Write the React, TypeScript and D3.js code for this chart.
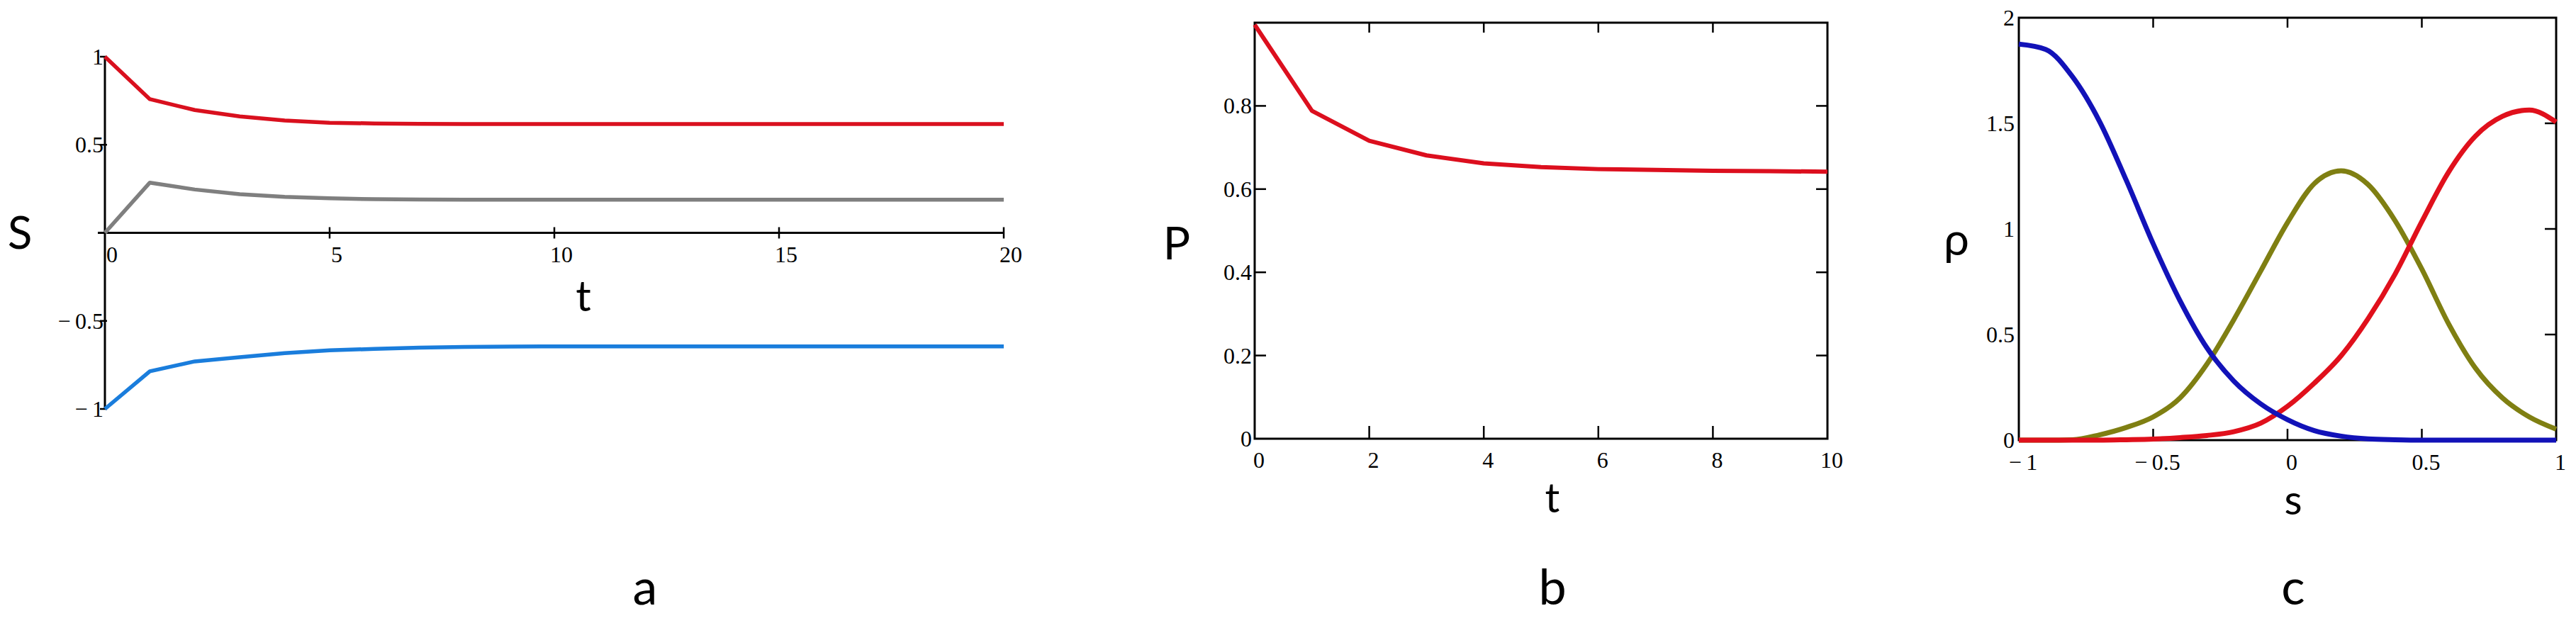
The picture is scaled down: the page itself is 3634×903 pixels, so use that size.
import React, { useEffect, useRef } from 'react';
import * as d3 from 'd3';

// panel a: S(t), three components
const tA = [0, 1, 2, 3, 4, 5, 6, 7, 8, 9, 10, 11, 12, 13, 14, 15, 16, 17, 18, 19, 20];
const sRed = [1, 0.759, 0.697, 0.661, 0.638, 0.625, 0.621, 0.619, 0.618, 0.618, 0.618, 0.618, 0.618, 0.618, 0.618, 0.618, 0.618, 0.618, 0.618, 0.618, 0.618];
const sGray = [0, 0.285, 0.246, 0.219, 0.204, 0.196, 0.191, 0.189, 0.188, 0.188, 0.188, 0.188, 0.188, 0.188, 0.188, 0.188, 0.188, 0.188, 0.188, 0.188, 0.188];
const sBlue = [-1, -0.786, -0.73, -0.706, -0.683, -0.667, -0.659, -0.652, -0.648, -0.646, -0.645, -0.645, -0.645, -0.645, -0.645, -0.645, -0.645, -0.645, -0.645, -0.645, -0.645];
const aXTicks = [0, 5, 10, 15, 20];
const aYTicks = [1, 0.5, -0.5, -1];

// panel b: P(t)
const tB = [0, 1, 2, 3, 4, 5, 6, 7, 8, 9, 10];
const pVals = [0.995, 0.788, 0.716, 0.681, 0.662, 0.653, 0.648, 0.646, 0.644, 0.643, 0.642];
const bXTicks = [0, 2, 4, 6, 8, 10];
const bYTicks = [0, 0.2, 0.4, 0.6, 0.8];

// panel c: rho(s)
const sC = [-1, -0.9, -0.8, -0.7, -0.6, -0.5, -0.4, -0.3, -0.2, -0.1, 0, 0.1, 0.2, 0.3, 0.4, 0.5, 0.6, 0.7, 0.8, 0.9, 1];
const rhoBlue = [1.875, 1.85, 1.72, 1.51, 1.23, 0.93, 0.66, 0.437, 0.28, 0.172, 0.097, 0.045, 0.019, 0.006, 0.002, 0, 0, 0, 0, 0, 0];
const rhoOlive = [0, 0, 0.002, 0.025, 0.06, 0.11, 0.2, 0.36, 0.57, 0.8, 1.03, 1.215, 1.275, 1.21, 1.04, 0.81, 0.55, 0.34, 0.2, 0.11, 0.052];
const rhoRed = [0, 0, 0, 0, 0.002, 0.005, 0.012, 0.022, 0.04, 0.08, 0.16, 0.27, 0.4, 0.575, 0.785, 1.035, 1.27, 1.44, 1.533, 1.563, 1.506];
const cXTicks = [-1, -0.5, 0, 0.5, 1];
const cYTicks = [0, 0.5, 1, 1.5, 2];

const W = 3634;
const H = 903;
const tickFont = "'Liberation Serif', 'Times New Roman', serif";
const labelFont = "Lato, 'Open Sans', sans-serif";

const fmt = (v: number) => (v < 0 ? '\u2212\u2009' + String(-v) : String(v));

export default function App() {
  const svgRef = useRef<SVGSVGElement>(null);

  useEffect(() => {
    document.body.style.margin = '0';
    const svg = d3.select(svgRef.current);
    svg.selectAll('*').remove();
    svg.append('rect').attr('width', W).attr('height', H).attr('fill', 'white');

    const label = (x: number, y: number, s: string, size: number, anchor = 'middle', font = labelFont) =>
      svg.append('text')
        .attr('x', x).attr('y', y)
        .attr('text-anchor', anchor)
        .attr('dominant-baseline', 'central')
        .attr('font-family', font)
        .attr('font-size', size)
        .attr('fill', 'black')
        .text(s);

    // ---------- panel a ----------
    const xA = d3.scaleLinear().domain([0, 20]).range([148, 1416]);
    const yA = d3.scaleLinear().domain([-1, 1]).range([577, 80]);
    const lineA = d3.line<number>().x((_, i) => xA(tA[i]));

    svg.append('line').attr('x1', xA(0) - 10).attr('x2', xA(20)).attr('y1', yA(0)).attr('y2', yA(0))
      .attr('stroke', 'black').attr('stroke-width', 3);
    svg.append('line').attr('x1', xA(0)).attr('x2', xA(0)).attr('y1', yA(1)).attr('y2', yA(-1))
      .attr('stroke', 'black').attr('stroke-width', 3);
    aXTicks.slice(1).forEach(t => {
      svg.append('line').attr('x1', xA(t)).attr('x2', xA(t)).attr('y1', yA(0) - 8).attr('y2', yA(0) + 8)
        .attr('stroke', 'black').attr('stroke-width', 2.5);
    });
    aYTicks.forEach(v => {
      svg.append('line').attr('x1', xA(0) - 7).attr('x2', xA(0) + 3).attr('y1', yA(v)).attr('y2', yA(v))
        .attr('stroke', 'black').attr('stroke-width', 2.5);
    });
    aXTicks.forEach(t => label(xA(t) + 10, yA(0) + 30, String(t), 32, 'middle', tickFont));
    aYTicks.forEach(v => label(xA(0) - 2, yA(v), fmt(v), 32, 'end', tickFont));

    const seriesA: [number[], string][] = [[sRed, '#d9101e'], [sGray, '#7f7f7f'], [sBlue, '#1a7ddc']];
    seriesA.forEach(([vals, col]) => {
      svg.append('path')
        .attr('d', lineA.y(d => yA(d))(vals))
        .attr('fill', 'none').attr('stroke', col).attr('stroke-width', 5.5)
        .attr('stroke-linejoin', 'round');
    });
    label(28, 326, 'S', 64);
    label(823, 416, 't', 60);
    label(910, 826, 'a', 70);

    // ---------- panel b ----------
    const xB = d3.scaleLinear().domain([0, 10]).range([1770, 2578]);
    const yB = d3.scaleLinear().domain([0, 1]).range([619, 32]);
    svg.append('rect').attr('x', xB(0)).attr('y', yB(1)).attr('width', xB(10) - xB(0)).attr('height', yB(0) - yB(1))
      .attr('fill', 'none').attr('stroke', 'black').attr('stroke-width', 3);
    bXTicks.slice(1, -1).forEach(t => {
      svg.append('line').attr('x1', xB(t)).attr('x2', xB(t)).attr('y1', yB(0)).attr('y2', yB(0) - 18)
        .attr('stroke', 'black').attr('stroke-width', 2.5);
      svg.append('line').attr('x1', xB(t)).attr('x2', xB(t)).attr('y1', yB(1)).attr('y2', yB(1) + 14)
        .attr('stroke', 'black').attr('stroke-width', 2.5);
    });
    bYTicks.slice(1).forEach(v => {
      svg.append('line').attr('x1', xB(0)).attr('x2', xB(0) + 16).attr('y1', yB(v)).attr('y2', yB(v))
        .attr('stroke', 'black').attr('stroke-width', 2.5);
      svg.append('line').attr('x1', xB(10)).attr('x2', xB(10) - 16).attr('y1', yB(v)).attr('y2', yB(v))
        .attr('stroke', 'black').attr('stroke-width', 2.5);
    });
    bXTicks.forEach(t => label(xB(t) + 6, yB(0) + 30, String(t), 32, 'middle', tickFont));
    bYTicks.forEach(v => label(xB(0) - 4, yB(v), String(v), 32, 'end', tickFont));
    svg.append('path')
      .attr('d', d3.line<number>().x((_, i) => xB(tB[i])).y(d => yB(d))(pVals))
      .attr('fill', 'none').attr('stroke', '#dc0f1e').attr('stroke-width', 6).attr('stroke-linejoin', 'round');
    label(1660, 341, 'P', 64);
    label(2190, 700, 't', 58);
    label(2190, 826, 'b', 70);

    // ---------- panel c ----------
    const xC = d3.scaleLinear().domain([-1, 1]).range([2848, 3606]);
    const yC = d3.scaleLinear().domain([0, 2]).range([621, 25]);
    svg.append('rect').attr('x', xC(-1)).attr('y', yC(2)).attr('width', xC(1) - xC(-1)).attr('height', yC(0) - yC(2))
      .attr('fill', 'none').attr('stroke', 'black').attr('stroke-width', 3);
    cXTicks.slice(1, -1).forEach(t => {
      svg.append('line').attr('x1', xC(t)).attr('x2', xC(t)).attr('y1', yC(0)).attr('y2', yC(0) - 16)
        .attr('stroke', 'black').attr('stroke-width', 2.5);
      svg.append('line').attr('x1', xC(t)).attr('x2', xC(t)).attr('y1', yC(2)).attr('y2', yC(2) + 14)
        .attr('stroke', 'black').attr('stroke-width', 2.5);
    });
    cYTicks.slice(1, -1).forEach(v => {
      svg.append('line').attr('x1', xC(1)).attr('x2', xC(1) - 16).attr('y1', yC(v)).attr('y2', yC(v))
        .attr('stroke', 'black').attr('stroke-width', 2.5);
    });
    cXTicks.forEach(t => label(xC(t) + 6, yC(0) + 31, fmt(t), 32, 'middle', tickFont));
    cYTicks.forEach(v => label(xC(-1) - 6, yC(v), String(v), 32, 'end', tickFont));

    const seriesC: [number[], string][] = [[rhoOlive, '#7f7f12'], [rhoRed, '#e0101c'], [rhoBlue, '#1212b8']];
    seriesC.forEach(([vals, col]) => {
      svg.append('path')
        .attr('d', d3.line<number>().x((_, i) => xC(sC[i])).y(d => yC(d)).curve(d3.curveMonotoneX)(vals))
        .attr('fill', 'none').attr('stroke', col).attr('stroke-width', 7).attr('stroke-linejoin', 'round');
    });
    label(2760, 335, 'ρ', 64);
    label(3235, 703, 's', 58);
    label(3235, 826, 'c', 70);
  }, []);

  return (
    <div>
      <svg ref={svgRef} width={W} height={H} style={{ display: 'block' }}></svg>
    </div>
  );
}
